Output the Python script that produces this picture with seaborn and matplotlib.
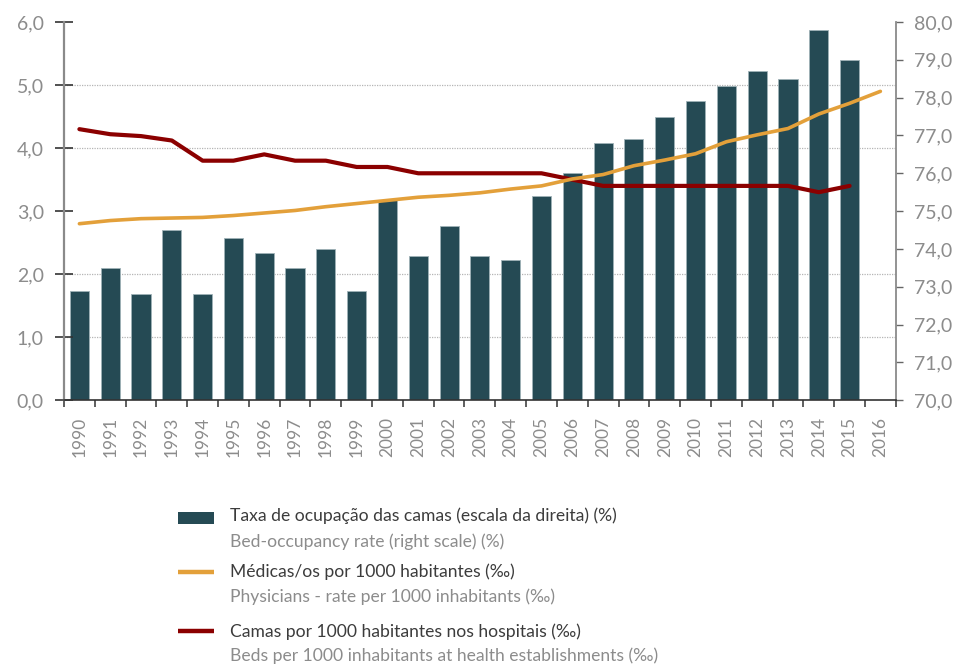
import numpy as np
import pandas as pd
import matplotlib
matplotlib.use('Agg')
import matplotlib.pyplot as plt
import seaborn as sns
from matplotlib.lines import Line2D
from matplotlib.patches import Rectangle
from matplotlib.ticker import FixedLocator

# Data
years = list(range(1990, 2017))
bed_occupancy = [72.9, 73.5, 72.8, 74.5, 72.8, 74.3, 73.9, 73.5, 74.0, 72.9,
                 75.3, 73.8, 74.6, 73.8, 73.7, 75.4, 76.0, 76.8, 76.9, 77.5,
                 77.9, 78.3, 78.7, 78.5, 79.8, 79.0, np.nan]
physicians = [2.80, 2.85, 2.88, 2.89, 2.90, 2.93, 2.97, 3.01, 3.07, 3.12,
              3.17, 3.22, 3.25, 3.29, 3.35, 3.40, 3.51, 3.58, 3.72, 3.81,
              3.91, 4.10, 4.21, 4.31, 4.54, 4.71, 4.90]
beds = [4.30, 4.22, 4.19, 4.12, 3.80, 3.80, 3.90, 3.80, 3.80, 3.70,
        3.70, 3.60, 3.60, 3.60, 3.60, 3.60, 3.50, 3.40, 3.40, 3.40,
        3.40, 3.40, 3.40, 3.40, 3.30, 3.40, np.nan]
left_ticks = [0, 1, 2, 3, 4, 5, 6]
right_ticks = [70, 71, 72, 73, 74, 75, 76, 77, 78, 79, 80]

labels_pt = ['Taxa de ocupação das camas (escala da direita) (%)',
             'Médicas/os por 1000 habitantes (‰)',
             'Camas por 1000 habitantes nos hospitais (‰)']
labels_en = ['Bed-occupancy rate (right scale) (%)',
             'Physicians - rate per 1000 inhabitants (‰)',
             'Beds per 1000 inhabitants at health establishments (‰)']

df = pd.DataFrame({'year': years, 'occupancy': bed_occupancy,
                   'physicians': physicians, 'beds': beds})

bar_color = '#254a54'
yellow = '#e3a03a'
red = '#8b0000'
gray_txt = '#8c8c8c'
dark_txt = '#3c3c3c'

sns.set_style('white')
plt.rcParams['font.family'] = ['Lato', 'DejaVu Sans']

fig, ax = plt.subplots(figsize=(9.55, 6.67), dpi=100)
fig.subplots_adjust(left=0.067, right=0.938, top=0.967, bottom=0.400)
ax2 = ax.twinx()

# bars on the right scale, drawn below the lines
ax.set_zorder(2)
ax.patch.set_visible(False)
ax2.set_zorder(1)

sns.barplot(data=df, x='year', y='occupancy', native_scale=True, width=0.62,
            color=bar_color, saturation=1, edgecolor='#9fb2b7', linewidth=0.6,
            ax=ax2, zorder=3)
sns.lineplot(data=df, x='year', y='beds', color=red, linewidth=3.0, ax=ax)
sns.lineplot(data=df, x='year', y='physicians', color=yellow, linewidth=2.6, ax=ax)

ax.set_xlim(years[0] - 0.5, years[-1] + 0.5)
ax.set_ylim(left_ticks[0], left_ticks[-1])
ax2.set_ylim(right_ticks[0], right_ticks[-1])

# left axis (lines)
ax.set_yticks(left_ticks)
ax.set_yticklabels([f'{v:.1f}'.replace('.', ',') for v in left_ticks])
ax.tick_params(axis='y', which='major', direction='inout', length=13, width=1.2,
               color='#333333', labelsize=14, labelcolor=gray_txt, pad=8,
               left=True)

# right axis (bars)
ax2.set_yticks(right_ticks)
ax2.set_yticklabels([f'{v:.1f}'.replace('.', ',') for v in right_ticks])
ax2.tick_params(axis='y', which='major', direction='out', length=5, width=1,
                color='#666666', labelsize=14, labelcolor=gray_txt, pad=8)

# grid follows the left scale but sits under the bars
lo, hi = right_ticks[0], right_ticks[-1]
grid_pos = [lo + (hi - lo) * t / left_ticks[-1] for t in left_ticks[1:-1]]
ax2.yaxis.set_minor_locator(FixedLocator(grid_pos))
ax2.tick_params(axis='y', which='minor', length=0)
ax2.grid(axis='y', which='minor', color='#b5b5b5', linestyle=(0, (1, 1)),
         linewidth=0.9, zorder=0)
ax2.set_axisbelow(True)
ax.grid(False)

# x axis: labels at the years, tick marks between categories
ax.set_xticks(years)
ax.set_xticklabels([str(y) for y in years], rotation=90)
ax.xaxis.set_minor_locator(FixedLocator([y - 0.5 for y in years] + [years[-1] + 0.5]))
ax.tick_params(axis='x', which='major', length=0, labelsize=12.5,
               labelcolor=gray_txt, pad=12, bottom=True, labelbottom=True)
ax.tick_params(axis='x', which='minor', direction='out', length=5, width=1.1,
               color='#333333', bottom=True)
ax2.xaxis.set_visible(False)

for a in (ax, ax2):
    a.set_xlabel('')
    a.set_ylabel('')
    a.spines['top'].set_visible(False)
ax.spines['left'].set_color('#8a8a8a')
ax.spines['left'].set_linewidth(1.6)
ax.spines['right'].set_visible(False)
ax.spines['bottom'].set_color('#333333')
ax.spines['bottom'].set_linewidth(1.2)
ax2.spines['left'].set_visible(False)
ax2.spines['bottom'].set_visible(False)
ax2.spines['right'].set_color('#8a8a8a')
ax2.spines['right'].set_linewidth(1.3)

if ax.get_legend() is not None:
    ax.get_legend().remove()

# legend below the chart, two lines of text per entry
hx, hw = 178 / 955, 36 / 955
fig.add_artist(Rectangle((hx, 1 - 524 / 667), hw, 12 / 667, transform=fig.transFigure,
                         facecolor=bar_color, edgecolor='none'))
fig.add_artist(Line2D([hx, hx + hw], [1 - 571.7 / 667] * 2, transform=fig.transFigure,
                      color=yellow, linewidth=3.2, solid_capstyle='butt'))
fig.add_artist(Line2D([hx, hx + hw], [1 - 630.7 / 667] * 2, transform=fig.transFigure,
                      color=red, linewidth=3.2, solid_capstyle='butt'))

tx = 230 / 955
pt_y = [516, 572, 632]
en_y = [542, 597, 656]
for lab, y in zip(labels_pt, pt_y):
    fig.text(tx, 1 - y / 667, lab, color=dark_txt, fontsize=12.6, va='center', ha='left')
for lab, y in zip(labels_en, en_y):
    fig.text(tx, 1 - y / 667, lab, color=gray_txt, fontsize=12.6, va='center', ha='left')

fig.savefig('out.png', dpi=100)
